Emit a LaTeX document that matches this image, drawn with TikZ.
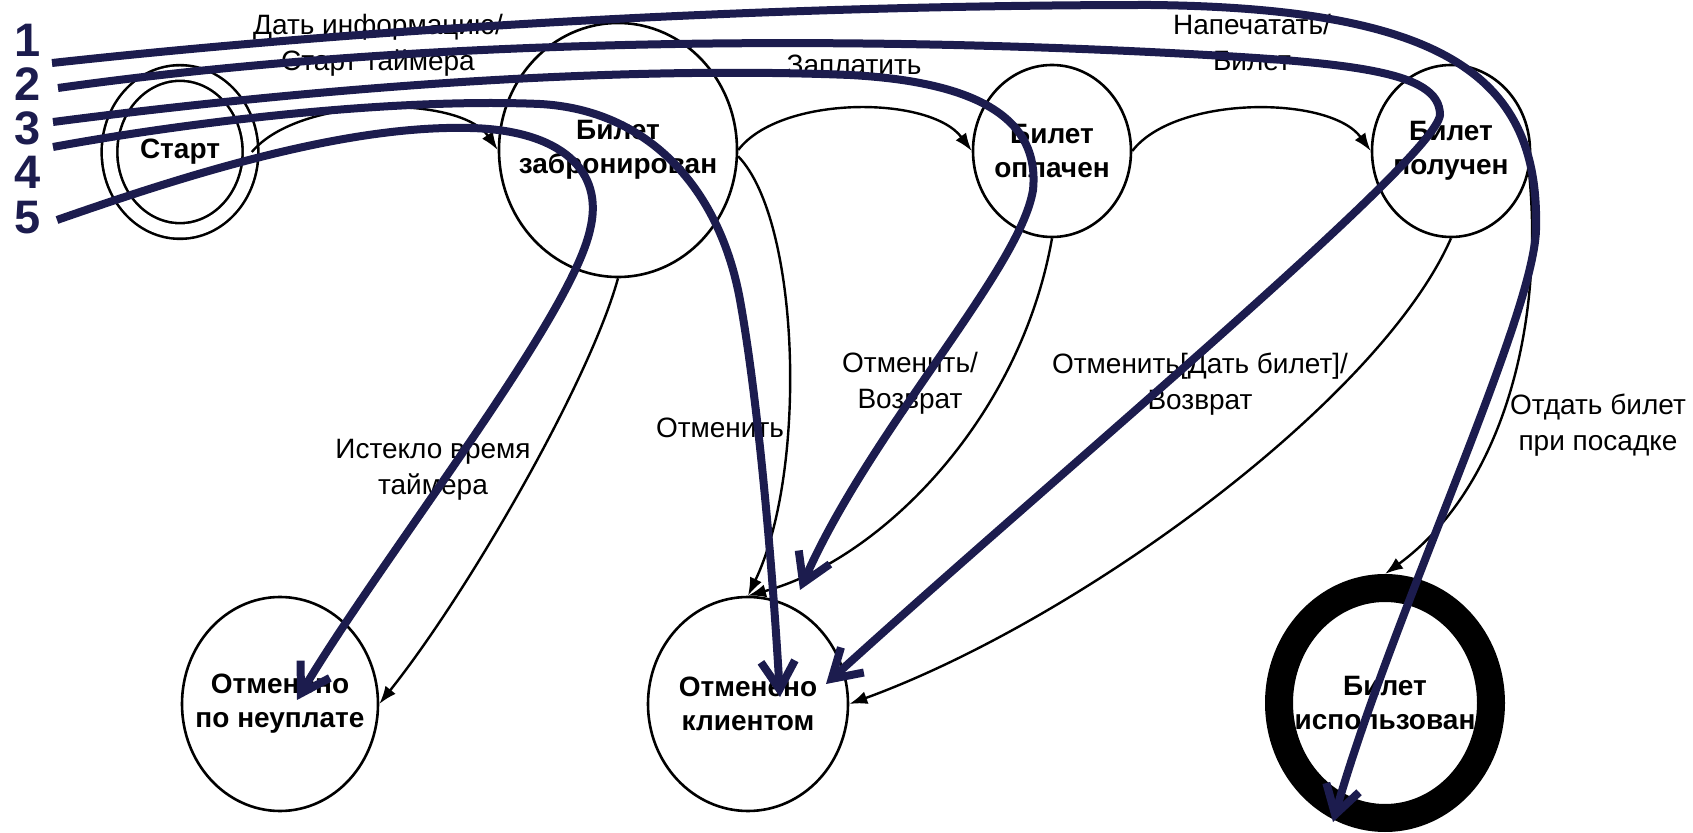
\documentclass[tikz,border=0pt]{standalone}
\usepackage{fontspec}
\setmainfont{Liberation Sans}
\usetikzlibrary{shapes.geometric,arrows.meta}
\definecolor{navy}{HTML}{1C1C4E}
\newcommand\stfont{\fontsize{14pt}{17pt}\selectfont\bfseries}
\newcommand\lbfont{\fontsize{14pt}{18pt}\selectfont}
\newcommand\nmfont{\fontsize{23.5pt}{26pt}\selectfont\bfseries}
% zero-width centred line, so the text does not widen its ellipse
\newcommand\zline[1]{\makebox[0pt]{#1}}
\begin{document}
\begin{tikzpicture}[x=0.5pt,y=-0.5pt,
  state/.style={ellipse, draw, line width=1.3pt, inner sep=0pt, align=center, font=\stfont},
  edgelbl/.style={align=center, font=\lbfont, inner sep=0pt},
  trans/.style={draw, line width=1.2pt, -{Latex[length=9pt,width=6.5pt]}},
  scen/.style={draw=navy, line width=4pt, -{Straight Barb[length=14pt,width=17pt]}},
  numlbl/.style={text=navy, font=\nmfont, inner sep=0pt}]
\useasboundingbox (0,0) rectangle (1693,833);

% states
\node[state, double, double distance=6.5pt, minimum width=70.5pt, minimum height=79pt] (start) at (180,152) {\zline{Старт}};
\node[state, minimum width=119pt, minimum height=127pt] (zab) at (618,150) {\zline{Билет}\\\zline{забронирован}};
\node[state, minimum width=79pt, minimum height=86pt] (opl) at (1052,151) {\zline{Билет}\\\zline{оплачен}};
\node[state, minimum width=79pt, minimum height=86pt] (pol) at (1451,151) {\zline{Билет}\\\zline{получен}};
\node[state, minimum width=98pt, minimum height=107pt] (neu) at (280,704) {\zline{Отменено}\\\zline{по неуплате}};
\node[state, minimum width=100pt, minimum height=107pt] (kl) at (748,704) {\zline{Отменено}\\\zline{клиентом}};
\node[state, line width=14pt, minimum width=106pt, minimum height=115pt] (isp) at (1385,703) {\zline{Билет}\\\zline{использован}};

% transitions
\draw[trans] (start.east) .. controls (300,95) and (460,95) .. (zab.west);
\draw[trans] (zab.east) .. controls (780,95) and (930,95) .. (opl.west);
\draw[trans] (opl.east) .. controls (1175,95) and (1330,95) .. (pol.west);
\draw[trans] (zab.south) .. controls (590,380) and (470,590) .. (neu.east);
\draw[trans] (zab.-3) .. controls (800,220) and (808,470) .. (kl.north);
\draw[trans] (opl.south) .. controls (1020,420) and (880,560) .. (kl.north);
\draw[trans] (pol.south) .. controls (1380,400) and (1080,620) .. (kl.east);
\draw[trans] (pol.-15) .. controls (1545,330) and (1500,490) .. (isp.north);

% transition labels
\node[edgelbl] (l1) at (378,45) {Дать информацию/\\Старт таймера};
\node[edgelbl] (l2) at (854,65) {Заплатить};
\node[edgelbl] (l3) at (1252,42) {Напечатать/\\Билет};
\node[edgelbl] (l4) at (433,470) {Истекло время\\таймера};
\node[edgelbl] (l5) at (720,428) {Отменить};
\node[edgelbl] (l6) at (910,383) {Отменить/\\Возврат};
\node[edgelbl] (l7) at (1200,384) {Отменить[Дать билет]/\\Возврат};
\node[edgelbl] (l8) at (1598,425) {Отдать билет\\при посадке};

% scenario numbers
\node[numlbl] (n1) at (28,40) {1};
\node[numlbl] (n2) at (28,84) {2};
\node[numlbl] (n3) at (28,128) {3};
\node[numlbl] (n4) at (28,172) {4};
\node[numlbl] (n5) at (28,218) {5};

% scenario paths
\coordinate (s1) at (52,63);
\coordinate (s2) at (58,88);
\coordinate (s3) at (53,122);
\coordinate (s4) at (53,147);
\coordinate (s5) at (57,220);
\coordinate (e1) at (1333,822);
\coordinate (e2) at (826,684);
\coordinate (e3) at (800,590);
\coordinate (e4) at (780,697);
\coordinate (e5) at (297,700);

\draw[scen] (s1) .. controls (400,25) and (800,5) .. (1150,5)
  .. controls (1450,8) and (1540,80) .. (1536,230)
  .. controls (1533,320) and (1390,620) .. (e1);
\draw[scen] (s2) .. controls (400,40) and (800,35) .. (1150,52)
  .. controls (1350,62) and (1440,70) .. (1440,115)
  .. controls (1435,160) and (1050,480) .. (e2);
\draw[scen] (s3) .. controls (300,90) and (600,65) .. (850,75)
  .. controls (980,82) and (1040,120) .. (1033,190)
  .. controls (1020,270) and (870,430) .. (e3);
\draw[scen] (s4) .. controls (200,120) and (400,98) .. (540,104)
  .. controls (650,110) and (720,190) .. (740,300)
  .. controls (758,400) and (772,560) .. (e4);
\draw[scen] (s5) .. controls (200,170) and (350,125) .. (470,128)
  .. controls (560,130) and (605,170) .. (590,230)
  .. controls (570,320) and (380,560) .. (e5);
\end{tikzpicture}
\end{document}
